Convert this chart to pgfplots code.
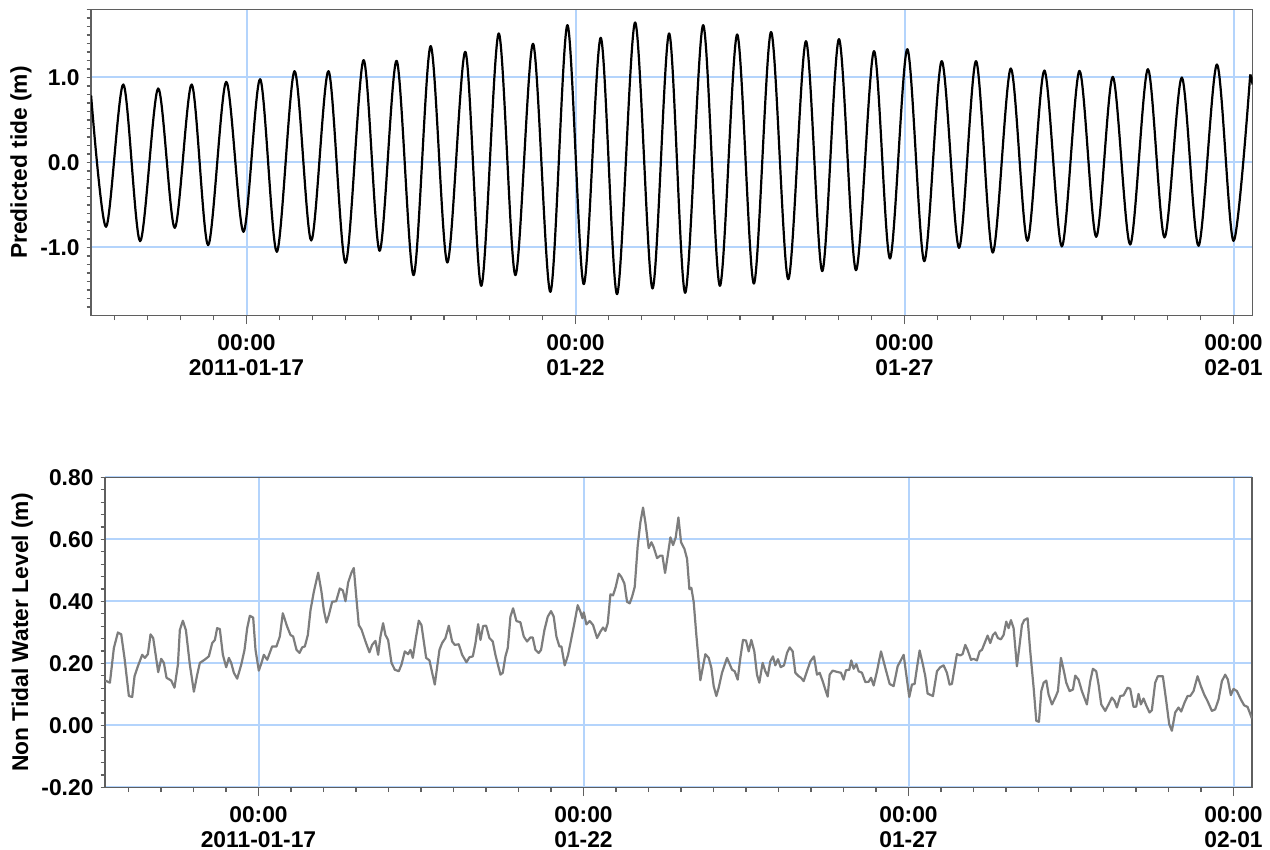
\documentclass[border=0pt]{standalone}
\usepackage{pgfplots}
\pgfplotsset{compat=1.18}
\usepackage{pgfplotstable}
\usepackage{fontspec}
\setmainfont{Liberation Sans}
\definecolor{gridblue}{RGB}{180,212,252}
\definecolor{framegray}{RGB}{95,95,95}
\definecolor{seriesgray}{RGB}{125,125,125}

\pgfplotstableread{
day value
-2.362 0.79
-2.134 -0.757
-1.871 0.918
-1.617 -0.926
-1.343 0.871
-1.090 -0.769
-0.832 0.918
-0.583 -0.973
-0.309 0.949
-0.046 -0.816
0.208 0.98
0.461 -1.051
0.730 1.075
0.984 -0.918
1.247 1.075
1.506 -1.18
1.779 1.204
2.023 -1.039
2.282 1.196
2.540 -1.325
2.798 1.369
3.052 -1.176
3.326 1.302
3.569 -1.451
3.833 1.518
4.086 -1.325
4.355 1.396
4.619 -1.522
4.877 1.616
5.125 -1.431
5.384 1.467
5.632 -1.549
5.906 1.647
6.170 -1.482
6.423 1.518
6.667 -1.533
6.940 1.616
7.194 -1.451
7.457 1.506
7.711 -1.424
7.972 1.535
8.233 -1.373
8.502 1.427
8.750 -1.278
9.004 1.451
9.262 -1.267
9.536 1.31
9.779 -1.129
10.043 1.333
10.30 -1.161
10.565 1.192
10.829 -1.004
11.087 1.192
11.341 -1.059
11.615 1.106
11.868 -0.922
12.126 1.082
12.391 -0.988
12.659 1.078
12.913 -0.875
13.166 1.008
13.43 -0.965
13.699 1.098
13.951 -0.882
14.215 1.0
14.469 -0.98
14.748 1.153
15.0 -0.922
15.254 1.035
}\tidetable

\pgfplotstableread{
day value
15.254 1.035
15.272 1.00
15.29 0.918
}\tideend

\pgfplotstableread{
day value
-2.358 0.145
-2.286 0.138
-2.225 0.250
-2.163 0.300
-2.112 0.294
-2.061 0.217
-1.994 0.095
-1.943 0.092
-1.907 0.159
-1.856 0.191
-1.789 0.228
-1.748 0.218
-1.702 0.230
-1.661 0.294
-1.620 0.282
-1.543 0.172
-1.497 0.215
-1.456 0.202
-1.415 0.154
-1.343 0.145
-1.292 0.122
-1.240 0.196
-1.210 0.308
-1.164 0.338
-1.117 0.308
-1.056 0.196
-0.994 0.109
-0.943 0.164
-0.902 0.202
-0.830 0.212
-0.764 0.223
-0.712 0.266
-0.671 0.276
-0.636 0.314
-0.595 0.311
-0.548 0.228
-0.497 0.188
-0.456 0.218
-0.420 0.202
-0.379 0.170
-0.328 0.151
-0.266 0.196
-0.215 0.244
-0.174 0.314
-0.133 0.354
-0.082 0.348
-0.046 0.244
0.005 0.177
0.046 0.202
0.082 0.228
0.134 0.212
0.210 0.255
0.277 0.255
0.328 0.287
0.374 0.362
0.441 0.319
0.492 0.292
0.533 0.287
0.585 0.244
0.631 0.234
0.672 0.252
0.713 0.255
0.759 0.292
0.800 0.372
0.851 0.431
0.918 0.493
0.969 0.431
1.005 0.372
1.046 0.332
1.082 0.356
1.133 0.399
1.195 0.401
1.251 0.442
1.297 0.436
1.338 0.401
1.379 0.461
1.430 0.493
1.466 0.508
1.502 0.420
1.543 0.324
1.584 0.310
1.646 0.271
1.707 0.236
1.748 0.260
1.799 0.273
1.841 0.228
1.876 0.287
1.917 0.330
1.953 0.292
1.994 0.276
2.046 0.202
2.097 0.180
2.158 0.175
2.199 0.196
2.251 0.239
2.302 0.230
2.338 0.244
2.374 0.218
2.425 0.287
2.466 0.338
2.507 0.324
2.579 0.218
2.630 0.210
2.712 0.132
2.784 0.244
2.825 0.266
2.876 0.282
2.928 0.322
2.979 0.271
3.020 0.260
3.081 0.262
3.133 0.228
3.199 0.204
3.245 0.220
3.297 0.223
3.338 0.266
3.379 0.327
3.415 0.276
3.456 0.321
3.502 0.322
3.553 0.282
3.604 0.271
3.645 0.228
3.722 0.164
3.758 0.170
3.799 0.223
3.835 0.250
3.876 0.351
3.917 0.378
3.968 0.337
4.029 0.333
4.081 0.287
4.132 0.271
4.183 0.284
4.219 0.284
4.260 0.244
4.311 0.234
4.347 0.244
4.399 0.308
4.450 0.351
4.501 0.369
4.542 0.351
4.583 0.287
4.629 0.255
4.660 0.255
4.711 0.194
4.763 0.228
4.809 0.276
4.860 0.330
4.911 0.388
4.952 0.367
4.983 0.346
5.004 0.365
5.045 0.326
5.096 0.337
5.147 0.324
5.209 0.282
5.260 0.303
5.301 0.316
5.337 0.305
5.373 0.330
5.414 0.423
5.455 0.420
5.496 0.447
5.542 0.490
5.583 0.479
5.629 0.458
5.670 0.399
5.711 0.394
5.747 0.415
5.788 0.447
5.834 0.580
5.875 0.655
5.916 0.703
5.952 0.655
6.003 0.572
6.045 0.591
6.080 0.575
6.132 0.540
6.183 0.548
6.214 0.548
6.255 0.492
6.296 0.548
6.337 0.607
6.378 0.582
6.419 0.607
6.460 0.671
6.501 0.591
6.552 0.570
6.593 0.538
6.629 0.440
6.659 0.444
6.695 0.399
6.736 0.292
6.798 0.146
6.834 0.186
6.875 0.230
6.926 0.218
6.967 0.186
7.003 0.127
7.044 0.095
7.080 0.122
7.131 0.170
7.208 0.218
7.249 0.198
7.285 0.180
7.326 0.175
7.372 0.148
7.413 0.218
7.454 0.276
7.500 0.274
7.541 0.239
7.582 0.276
7.628 0.239
7.669 0.164
7.705 0.138
7.756 0.202
7.797 0.175
7.834 0.159
7.874 0.207
7.915 0.223
7.951 0.194
7.992 0.214
8.033 0.188
8.085 0.194
8.131 0.234
8.172 0.252
8.218 0.239
8.259 0.170
8.310 0.159
8.346 0.154
8.387 0.143
8.438 0.175
8.490 0.207
8.546 0.223
8.592 0.164
8.633 0.170
8.680 0.143
8.720 0.116
8.756 0.093
8.787 0.164
8.833 0.177
8.900 0.173
8.961 0.170
9.002 0.148
9.038 0.178
9.089 0.180
9.120 0.210
9.156 0.183
9.197 0.198
9.233 0.175
9.284 0.170
9.336 0.140
9.387 0.141
9.423 0.154
9.464 0.129
9.515 0.175
9.577 0.239
9.643 0.186
9.710 0.134
9.771 0.127
9.833 0.191
9.874 0.207
9.925 0.228
9.966 0.164
10.012 0.092
10.053 0.132
10.094 0.134
10.130 0.186
10.171 0.242
10.222 0.196
10.258 0.159
10.294 0.103
10.376 0.095
10.438 0.175
10.489 0.188
10.540 0.194
10.591 0.170
10.632 0.132
10.668 0.134
10.704 0.180
10.745 0.230
10.796 0.226
10.832 0.230
10.873 0.260
10.909 0.244
10.961 0.212
11.002 0.215
11.053 0.210
11.094 0.239
11.130 0.244
11.181 0.271
11.217 0.290
11.258 0.266
11.299 0.292
11.335 0.300
11.376 0.282
11.422 0.278
11.463 0.292
11.504 0.335
11.540 0.314
11.576 0.340
11.617 0.314
11.668 0.191
11.709 0.260
11.745 0.324
11.781 0.340
11.832 0.346
11.873 0.239
11.925 0.122
11.966 0.015
12.007 0.012
12.043 0.111
12.079 0.138
12.120 0.145
12.155 0.100
12.207 0.068
12.258 0.090
12.299 0.111
12.345 0.218
12.386 0.180
12.427 0.138
12.478 0.111
12.530 0.116
12.565 0.161
12.616 0.148
12.667 0.111
12.744 0.068
12.796 0.143
12.837 0.183
12.888 0.175
12.924 0.132
12.965 0.068
13.026 0.047
13.078 0.068
13.129 0.090
13.170 0.079
13.206 0.058
13.257 0.095
13.308 0.097
13.370 0.122
13.411 0.118
13.462 0.060
13.503 0.061
13.539 0.102
13.575 0.068
13.616 0.087
13.657 0.065
13.708 0.042
13.744 0.049
13.795 0.138
13.836 0.159
13.913 0.159
13.965 0.079
14.011 0.004
14.052 -0.017
14.103 0.042
14.154 0.058
14.195 0.045
14.247 0.074
14.293 0.095
14.334 0.095
14.385 0.111
14.447 0.159
14.498 0.127
14.549 0.100
14.600 0.079
14.667 0.047
14.718 0.052
14.770 0.084
14.821 0.143
14.872 0.164
14.913 0.148
14.959 0.098
15.000 0.118
15.052 0.111
15.113 0.084
15.164 0.065
15.216 0.060
15.283 0.023
}\ntltable

\pgfplotsset{
  tidestyle/.style={
    scale only axis,
    axis line style={framegray, line width=0.9pt},
    tick style={framegray, line width=0.6pt},
    tick align=outside,
    xtick pos=bottom, ytick pos=left,
    major tick length=2.3pt, minor tick length=2.3pt,
    xmin=-2.36, xmax=15.29,
    xtick={0,5,10,15},
    minor xtick={-2,-1.5,...,15},
    xticklabels={{00:00\\2011-01-17},{00:00\\01-22},{00:00\\01-27},{00:00\\02-01}},
    xticklabel style={align=center, yshift=-3.5pt, font=\fontsize{11.4}{12.6}\selectfont\bfseries},
    yticklabel style={font=\fontsize{11.4}{12.5}\selectfont\bfseries},
    ylabel style={font=\fontsize{11.4}{12.5}\selectfont\bfseries},
    ylabel shift=-2.5pt,
    grid=major,
    major grid style={gridblue, line width=1pt},
    extra x ticks={0,5,10,15},
    extra x tick labels={},
    extra x tick style={major tick length=4.3pt, grid=none},
  }
}

\begin{document}
\begin{tikzpicture}
\path[use as bounding box] (0,0) rectangle (635pt,425pt);
\begin{axis}[tidestyle,
  at={(45.606pt,267.25pt)}, anchor=south west,
  width=580.685pt, height=153pt,
  ymin=-1.8, ymax=1.8,
  ytick={-1,0,1}, yticklabels={-1.0,0.0,1.0},
  minor ytick={-1.7,-1.6,...,1.75},
  ylabel={Predicted tide (m)}]
\addplot[black, line width=1.1pt, smooth, tension=0.5, line join=round] table[x=day, y=value] {\tidetable};
\addplot[black, line width=1.1pt, line join=round] table[x=day, y=value] {\tideend};
\end{axis}
\begin{axis}[tidestyle,
  at={(52.55pt,31.25pt)}, anchor=south west,
  width=573.625pt, height=155pt,
  ymin=-0.2, ymax=0.8,
  ytick={-0.2,0,0.2,0.4,0.6,0.8}, yticklabels={-0.20,0.00,0.20,0.40,0.60,0.80},
  minor ytick={-0.16,-0.12,...,0.78},
  ylabel={Non Tidal Water Level (m)}]
\addplot[seriesgray, line width=1.1pt, line join=round] table[x=day, y=value] {\ntltable};
\end{axis}
\end{tikzpicture}
\end{document}
